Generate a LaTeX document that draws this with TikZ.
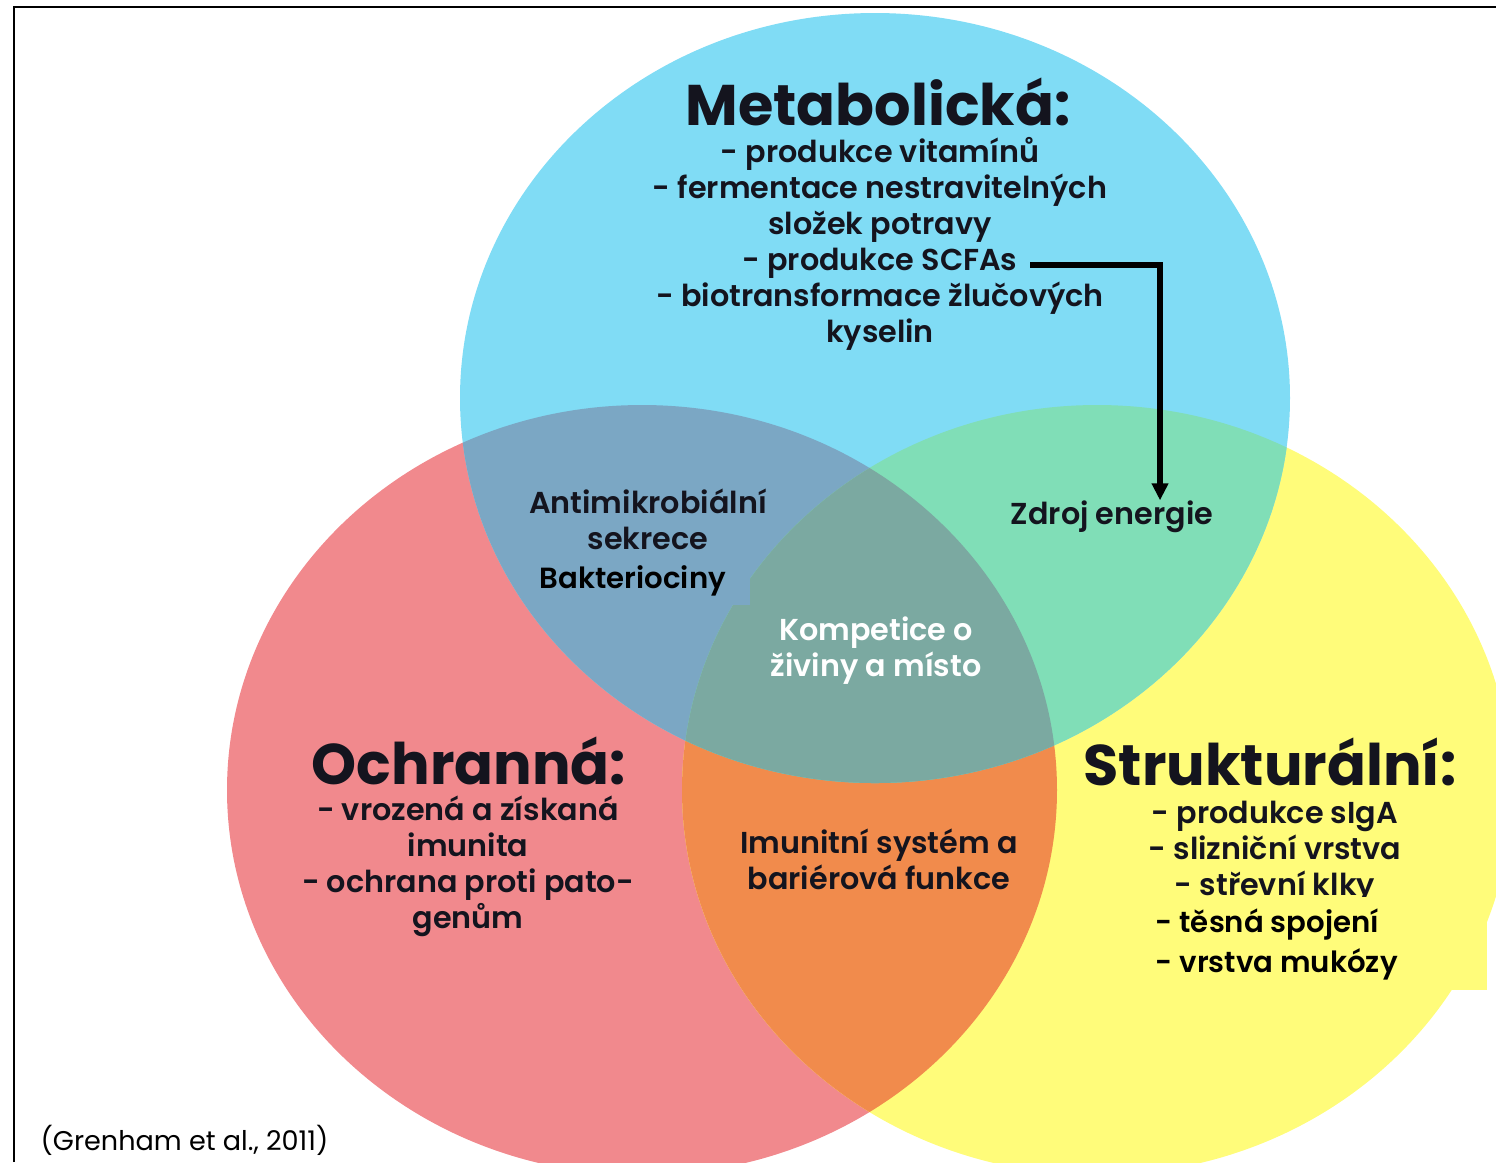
\documentclass[tikz,border=0pt]{standalone}
\usepackage{fontspec}
\setmainfont{Poppins}
\newfontfamily\semifont{Poppins SemiBold}
\usepackage{tikz}
\usetikzlibrary{arrows.meta,positioning,calc}

\definecolor{metablue}{RGB}{128,220,245}
\definecolor{ochrred}{RGB}{241,137,141}
\definecolor{strukyellow}{RGB}{255,252,122}
\definecolor{mixbr}{RGB}{123,167,196}
\definecolor{mixby}{RGB}{128,222,183}
\definecolor{mixry}{RGB}{241,139,76}
\definecolor{mixall}{RGB}{123,169,161}
\definecolor{inkdark}{RGB}{20,20,30}

\begin{document}
\begin{tikzpicture}[
    x=0.01cm, y=-0.01cm,
    venn/.style={x radius=415, y radius=385},
    heading/.style={inner sep=0, font=\bfseries\fontsize{16.3}{18}\selectfont, text=inkdark},
    detail/.style={inner sep=0, align=center, font=\semifont\fontsize{8.6}{10.25}\selectfont, text=inkdark},
    added/.style={inner sep=0, align=left, font=\semifont\fontsize{8.3}{11.4}\selectfont, text=black},
    arrow/.style={-{Triangle[width=4.5pt,length=4.8pt]}, line width=1.7pt}
]
\useasboundingbox (0,0) rectangle (1496,1162);

% circle centres
\coordinate (cmeta) at (875,398);
\coordinate (cochr) at (642,790);
\coordinate (cstruk) at (1097,790);

% the three sets
\fill[ochrred] (cochr) ellipse[venn];
\fill[strukyellow] (cstruk) ellipse[venn];
\fill[metablue] (cmeta) ellipse[venn];
\begin{scope}
  \clip (cochr) ellipse[venn];
  \fill[mixry] (cstruk) ellipse[venn];
\end{scope}
\begin{scope}
  \clip (cmeta) ellipse[venn];
  \fill[mixbr] (cochr) ellipse[venn];
  \fill[mixby] (cstruk) ellipse[venn];
  \clip (cochr) ellipse[venn];
  \fill[mixall] (cstruk) ellipse[venn];
\end{scope}

% frame
\draw[line width=0.6pt] (14,1162) -- (14,7) -- (1496,7);

% Metabolicka
\node[heading] (meta) at (878,102) {Metabolická:};
\node[detail] (meta_d) at (880,244) {- produkce vitamínů\\- fermentace nestravitelných\\složek potravy\\- produkce SCFAs\\- biotransformace žlučových\\kyselin};
\coordinate (scfa) at (1030,265);

% overlaps
\node[detail] (anti) at (648,519) {Antimikrobiální\\sekrece};
\fill[mixbr] (540,558) rectangle (750,605);
\node[added] (bakt) at (633,581) {Bakteriociny};
\node[detail] (zdroj) at (1112,517) {Zdroj energie};
\node[detail, text=white] (komp) at (876,651) {Kompetice o\\živiny a místo};
\node[detail] (imun) at (879,859) {Imunitní systém a\\bariérová funkce};

% Ochranna
\node[heading] (ochr) at (469,761) {Ochranná:};
\node[detail] (ochr_d) at (468,866) {- vrozená a získaná\\imunita\\- ochrana proti pato-\\genům};

% Strukturalni
\node[heading] (struk) at (1270,762) {Strukturální:};
\node[detail] (struk_d) at (1275,852) {- produkce sIgA\\- slizniční vrstva\\- střevní klky};
\fill[strukyellow] (1140,897) rectangle (1487,990);
\node[added, anchor=north west] (struk_add) at (1155,908) {- těsná spojení\\- vrstva mukózy};

\draw[arrow] (scfa) -| ([xshift=0.48cm]zdroj.north);

\node[inner sep=0, anchor=west, font=\fontsize{7.7}{9}\selectfont] (cite) at (40,1140) {(Grenham et al., 2011)};
\end{tikzpicture}
\end{document}
